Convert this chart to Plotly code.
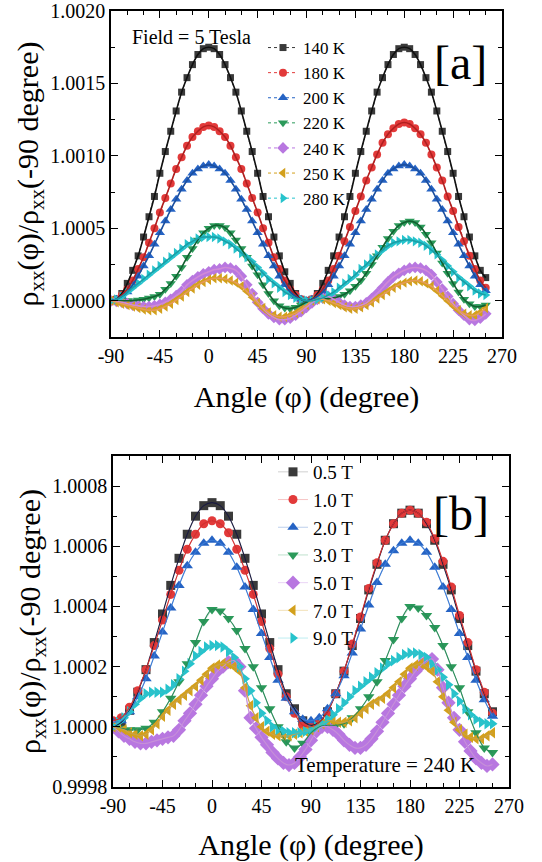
import plotly.graph_objects as go

# ---------------- data (deviation in units of 1e-4 from 1.0000) ----------------
angles_a = list(range(-90, 260, 5))
labels_a = ["140 K", "180 K", "200 K", "220 K", "240 K", "250 K", "280 K"]

t140 = [0.0, 0.1, 0.5, 1.2, 2.1, 3.1, 4.4, 5.8, 7.2, 8.8,
        10.3, 11.7, 13.1, 14.4, 15.4, 16.3, 17.0, 17.4, 17.5, 17.4,
        17.0, 16.3, 15.4, 14.4, 13.1, 11.7, 10.3, 8.8, 7.2, 5.8,
        4.4, 3.1, 2.0, 1.2, 0.5, 0.1, 0.0, 0.1, 0.5, 1.2,
        2.1, 3.1, 4.4, 5.8, 7.2, 8.8, 10.3, 11.7, 13.1, 14.4,
        15.4, 16.3, 17.0, 17.4, 17.5, 17.4, 17.0, 16.3, 15.4, 14.4,
        13.1, 11.7, 10.3, 8.8, 7.2, 5.8, 4.4, 3.1, 2.1, 1.6]
t180 = [0.0, 0.1, 0.4, 0.8, 1.4, 2.2, 3.0, 4.0, 5.0, 6.1,
        7.1, 8.1, 9.1, 9.9, 10.7, 11.3, 11.7, 12.0, 12.1, 12.0,
        11.7, 11.3, 10.7, 9.9, 9.1, 8.1, 7.1, 6.1, 5.0, 4.0,
        3.0, 2.2, 1.4, 0.8, 0.4, 0.1, 0.0, 0.1, 0.4, 0.8,
        1.4, 2.2, 3.1, 4.1, 5.1, 6.2, 7.2, 8.3, 9.2, 10.1,
        10.9, 11.5, 11.9, 12.2, 12.3, 12.2, 11.9, 11.5, 10.9, 10.1,
        9.2, 8.3, 7.2, 6.2, 5.1, 4.1, 3.1, 2.2, 1.4, 0.9]
t200 = [0.0, 0.1, 0.3, 0.6, 1.1, 1.7, 2.4, 3.1, 3.9, 4.7,
        5.5, 6.3, 7.0, 7.7, 8.3, 8.8, 9.1, 9.3, 9.4, 9.3,
        9.1, 8.8, 8.3, 7.7, 7.0, 6.3, 5.5, 4.7, 3.9, 3.1,
        2.4, 1.7, 1.1, 0.6, 0.3, 0.1, 0.0, 0.1, 0.3, 0.6,
        1.1, 1.7, 2.4, 3.1, 3.9, 4.7, 5.5, 6.3, 7.0, 7.7,
        8.3, 8.8, 9.1, 9.3, 9.4, 9.3, 9.1, 8.8, 8.3, 7.7,
        7.0, 6.3, 5.5, 4.7, 3.9, 3.1, 2.4, 1.7, 1.1, 0.7]
t220 = [0.0, 0.0, 0.0, 0.0, 0.0, 0.05, 0.1, 0.2, 0.3, 0.45,
        0.8, 1.2, 1.7, 2.3, 3.0, 3.6, 4.2, 4.7, 5.0, 5.2,
        5.2, 5.05, 4.7, 4.2, 3.6, 3.0, 2.4, 1.8, 1.1, 0.5,
        0.0, -0.35, -0.5, -0.55, -0.45, -0.3, -0.1, 0.0, 0.1, 0.1,
        0.15, 0.2, 0.3, 0.45, 0.7, 1.0, 1.4, 1.9, 2.5, 3.1,
        3.7, 4.3, 4.8, 5.2, 5.4, 5.5, 5.4, 5.1, 4.6, 4.0,
        3.3, 2.6, 1.9, 1.2, 0.6, 0.1, -0.2, -0.4, -0.4, -0.3]
t240 = [0.0, -0.05, -0.1, -0.2, -0.3, -0.35, -0.4, -0.4, -0.35, -0.25,
        -0.1, 0.1, 0.35, 0.65, 1.1, 1.4, 1.65, 1.85, 2.0, 2.15,
        2.2, 2.3, 2.25, 2.1, 1.7, 1.1, 0.5, -0.1, -0.55, -0.9,
        -1.15, -1.3, -1.3, -1.2, -1.0, -0.75, -0.45, -0.15, 0.1, 0.2,
        0.3, 0.1, -0.1, -0.3, -0.4, -0.4, -0.3, -0.15, 0.15, 0.5,
        0.9, 1.3, 1.65, 1.9, 2.1, 2.25, 2.3, 2.25, 2.1, 1.8,
        1.3, 0.8, 0.3, -0.2, -0.65, -1.0, -1.3, -1.35, -1.2, -0.9]
t250 = [0.0, -0.1, -0.2, -0.3, -0.4, -0.5, -0.6, -0.65, -0.65, -0.55,
        -0.4, -0.2, 0.05, 0.3, 0.6, 0.85, 1.1, 1.3, 1.45, 1.55,
        1.55, 1.5, 1.4, 1.25, 1.0, 0.65, 0.25, -0.15, -0.5, -0.8,
        -1.0, -1.1, -1.1, -1.0, -0.85, -0.6, -0.3, 0.0, 0.1, 0.1,
        0.0, -0.15, -0.3, -0.45, -0.55, -0.55, -0.45, -0.3, -0.1, 0.15,
        0.4, 0.65, 0.9, 1.1, 1.25, 1.35, 1.4, 1.35, 1.2, 1.0,
        0.7, 0.35, 0.0, -0.35, -0.65, -0.9, -1.0, -1.0, -0.8, -0.5]
t280 = [0.0, 0.1, 0.3, 0.6, 0.9, 1.2, 1.5, 1.8, 2.1, 2.4,
        2.7, 3.0, 3.3, 3.6, 3.9, 4.1, 4.3, 4.4, 4.4, 4.4,
        4.3, 4.1, 3.9, 3.6, 3.3, 3.0, 2.7, 2.3, 1.9, 1.5,
        1.2, 0.9, 0.6, 0.4, 0.2, 0.1, 0.0, 0.0, 0.1, 0.2,
        0.4, 0.6, 0.9, 1.2, 1.5, 1.8, 2.2, 2.5, 2.9, 3.2,
        3.5, 3.8, 4.0, 4.1, 4.2, 4.2, 4.1, 4.0, 3.8, 3.5,
        3.2, 2.8, 2.4, 2.0, 1.6, 1.3, 1.0, 0.7, 0.5, 0.4]

angles_b_coarse = [-90 + 7.5 * i for i in range(47)]
angles_b_fine = list(range(-90, 260, 5))
labels_b = ["0.5 T", "1.0 T", "2.0 T", "3.0 T", "5.0 T", "7.0 T", "9.0 T"]

b05 = [0.0, 0.15, 0.55, 1.15, 1.9, 2.8, 3.75, 4.7, 5.6, 6.4,
       7.0, 7.35, 7.45, 7.35, 7.0, 6.4, 5.6, 4.7, 3.75, 2.8,
       1.9, 1.1, 0.6, 0.2, 0.05, 0.15, 0.5, 1.1, 1.85, 2.7,
       3.6, 4.55, 5.4, 6.2, 6.75, 7.1, 7.2, 7.1, 6.75, 6.2,
       5.4, 4.55, 3.6, 2.7, 1.85, 1.1, 0.5]
b10 = [0.2, 0.3, 0.65, 1.2, 1.9, 2.7, 3.55, 4.4, 5.2, 5.9,
       6.4, 6.75, 6.85, 6.75, 6.45, 5.9, 5.2, 4.4, 3.5, 2.6,
       1.75, 1.0, 0.45, 0.05, 0.0, 0.15, 0.5, 1.1, 1.85, 2.75,
       3.65, 4.6, 5.45, 6.2, 6.75, 7.1, 7.2, 7.1, 6.8, 6.25,
       5.5, 4.65, 3.7, 2.8, 1.9, 1.15, 0.45]
b20 = [0.15, 0.2, 0.5, 1.0, 1.6, 2.35, 3.15, 3.95, 4.7, 5.35,
       5.8, 6.1, 6.2, 6.1, 5.8, 5.3, 4.65, 3.9, 3.1, 2.3,
       1.55, 0.95, 0.5, 0.25, 0.2, 0.3, 0.6, 1.1, 1.7, 2.45,
       3.25, 4.05, 4.8, 5.4, 5.85, 6.1, 6.2, 6.1, 5.8, 5.3,
       4.65, 3.9, 3.1, 2.3, 1.55, 0.9, 0.35]
b30 = [0.0, -0.05, -0.1, -0.1, -0.05, 0.15, 0.5, 0.95, 1.5, 2.1,
       2.8, 3.5, 3.9, 3.85, 3.6, 3.2, 2.6, 2.0, 1.3, 0.6,
       0.0, -0.5, -0.7, -0.55, -0.2, 0.0, 0.05, 0.05, 0.1, 0.3,
       0.6, 1.0, 1.5, 2.2, 2.9, 3.6, 4.0, 3.95, 3.7, 3.3,
       2.7, 2.0, 1.3, 0.5, -0.2, -0.7, -0.85]
b50 = [0.0, -0.15, -0.3, -0.4, -0.5, -0.55, -0.55, -0.5, -0.45, -0.4,
       -0.35, -0.3, -0.1, 0.2, 0.45, 0.75, 1.05, 1.35, 1.6, 1.85,
       2.0, 2.15, 2.2, 2.0, 1.2, 0.3, -0.05, -0.35, -0.6, -0.85,
       -1.05, -1.2, -1.27, -1.2, -1.0, -0.75, -0.45, -0.15, 0.0, 0.0,
       -0.1, -0.25, -0.45, -0.6, -0.7, -0.7, -0.6, -0.4, -0.15, 0.15,
       0.45, 0.75, 1.05, 1.35, 1.6, 1.85, 2.05, 2.2, 2.25, 1.9,
       1.3, 0.8, 0.3, -0.1, -0.5, -0.8, -1.05, -1.2, -1.3, -1.25]
b70 = [0.0, -0.05, -0.1, -0.2, -0.25, -0.3, -0.25, -0.1, 0.1, 0.35,
       0.55, 0.75, 0.9, 1.05, 1.2, 1.35, 1.55, 1.75, 1.95, 2.05,
       2.1, 2.1, 2.0, 1.85, 1.3, 0.7, 0.3, 0.0, -0.15, -0.25,
       -0.3, -0.3, -0.3, -0.25, -0.2, -0.15, -0.1, 0.0, 0.1, 0.2,
       0.2, 0.15, 0.15, 0.2, 0.3, 0.45, 0.6, 0.75, 0.85, 0.95,
       1.1, 1.3, 1.5, 1.75, 1.95, 2.05, 2.1, 2.0, 1.85, 1.5,
       1.0, 0.55, 0.15, -0.1, -0.25, -0.35, -0.4, -0.4, -0.3, -0.2]
b90 = [0.0, 0.15, 0.3, 0.5, 0.75, 0.95, 1.1, 1.15, 1.15, 1.15,
       1.25, 1.4, 1.6, 1.85, 2.1, 2.35, 2.5, 2.65, 2.7, 2.7,
       2.65, 2.5, 2.3, 2.0, 1.6, 1.2, 0.8, 0.45, 0.2, 0.0,
       -0.1, -0.15, -0.2, -0.2, -0.2, -0.15, -0.1, 0.0, 0.1, 0.25,
       0.4, 0.6, 0.8, 1.0, 1.2, 1.35, 1.5, 1.65, 1.8, 1.95,
       2.1, 2.2, 2.3, 2.4, 2.45, 2.45, 2.4, 2.3, 2.1, 1.9,
       1.65, 1.4, 1.1, 0.85, 0.6, 0.4, 0.25, 0.15, 0.1, 0.1]

x_ticks = [-90, -45, 0, 45, 90, 135, 180, 225, 270]
x_ticktext = ["-90", "-45", "0", "45", "90", "135", "180", "225", "270"]
ya_ticks = [1.0000, 1.0005, 1.0010, 1.0015, 1.0020]
yb_ticks = [0.9998, 1.0000, 1.0002, 1.0004, 1.0006, 1.0008]

# ---------------- styling ----------------
W, H = 542, 862
FONT = "Liberation Serif, Times New Roman, serif"
symbols = ["square", "circle", "triangle-up", "triangle-down", "diamond", "triangle-left", "triangle-right"]
colors = ["#3a3a3a", "#e23a3a", "#2563c4", "#2b9a5a", "#b877e0", "#d3a01c", "#26c3cc"]
fit_a = ["#111111", "#b02020", "#1c4f9e", "#126030", "#d089d8", "#e59a5a", "#1a9ea6"]
fit_b = ["#1a1a40", "#d03030", "#3b7bd5", "#2a8a5a", "#c690d8", "#c9a24a", "#35c0c8"]
pale = ["rgba(120,120,120,0.35)", "rgba(226,58,58,0.3)", "rgba(37,99,196,0.3)", "rgba(43,154,90,0.3)",
        "rgba(184,119,224,0.3)", "rgba(211,160,28,0.3)", "rgba(38,195,204,0.3)"]
msize_a = [7, 8, 9, 9, 9, 9, 9]
msize_b = [9, 9, 10, 10, 11, 10, 10]


def dev(vals):
    return [1 + v * 1e-4 for v in vals]


fig = go.Figure()

series_a = [t140, t180, t200, t220, t240, t250, t280]
for i, vals in enumerate(series_a):
    fig.add_trace(go.Scatter(
        x=angles_a, y=dev(vals), mode="lines+markers", name=labels_a[i],
        marker=dict(symbol=symbols[i], size=msize_a[i], color=colors[i]),
        line=dict(color=colors[i], width=1, dash="dot"),
        xaxis="x", yaxis="y", legend="legend"))
for i, vals in enumerate(series_a):
    fig.add_trace(go.Scatter(
        x=angles_a, y=dev(vals), mode="lines", showlegend=False, hoverinfo="skip",
        line=dict(color=fit_a[i], width=1.6, shape="spline", smoothing=1.0),
        xaxis="x", yaxis="y"))

series_b = [b05, b10, b20, b30, b50, b70, b90]
xs_b = [angles_b_coarse, angles_b_coarse, angles_b_coarse, angles_b_coarse,
        angles_b_fine, angles_b_fine, angles_b_fine]
for i, vals in enumerate(series_b):
    fig.add_trace(go.Scatter(
        x=xs_b[i], y=dev(vals), mode="lines+markers", name=labels_b[i],
        marker=dict(symbol=symbols[i], size=msize_b[i], color=colors[i]),
        line=dict(color=pale[i], width=1),
        xaxis="x2", yaxis="y2", legend="legend2"))
for i, vals in enumerate(series_b):
    fig.add_trace(go.Scatter(
        x=xs_b[i], y=dev(vals), mode="lines", showlegend=False, hoverinfo="skip",
        line=dict(color=fit_b[i], width=1.1, shape="spline", smoothing=1.0),
        xaxis="x2", yaxis="y2"))


def px_x(p):
    return p / W


def px_y(p):
    return 1 - p / H


axis_common = dict(
    showline=True, linecolor="black", linewidth=1.5, mirror="allticks",
    ticks="inside", ticklen=7, tickwidth=1.3, tickcolor="black",
    showgrid=False, zeroline=False, automargin=False,
    tickfont=dict(family=FONT, size=20, color="black"),
)
NB = "\u00a0"
ytitle_a = NB * 3 + "ρ<sub>xx</sub>(φ)/ρ<sub>xx</sub>(-90 degree)"
ytitle_b = NB * 2 + "ρ<sub>xx</sub>(φ)/ρ<sub>xx</sub>(-90 degree)"
xtitle = "Angle (φ) (degree)"

fig.update_layout(
    width=W, height=H, margin=dict(l=0, r=0, t=0, b=0),
    paper_bgcolor="white", plot_bgcolor="white",
    font=dict(family=FONT, color="black"),
    xaxis=dict(domain=[px_x(111), px_x(502)], range=[-90, 270], tickvals=x_ticks, ticktext=x_ticktext,
               minor=dict(ticks="inside", dtick=15, tick0=-90, ticklen=4, tickcolor="black"),
               title=dict(text=xtitle, font=dict(family=FONT, size=30, color="black"), standoff=20),
               anchor="y", **axis_common),
    yaxis=dict(domain=[px_y(337), px_y(11)], range=[0.99975, 1.0020], tickvals=ya_ticks,
               tickformat=".4f",
               minor=dict(ticks="inside", dtick=0.00025, tick0=1.0, ticklen=4, tickcolor="black"),
               title=dict(text=ytitle_a, font=dict(family=FONT, size=30, color="black"), standoff=3),
               anchor="x", **axis_common),
    xaxis2=dict(domain=[px_x(113), px_x(509)], range=[-90, 270], tickvals=x_ticks, ticktext=x_ticktext,
                minor=dict(ticks="inside", dtick=15, tick0=-90, ticklen=4, tickcolor="black"),
                title=dict(text=xtitle, font=dict(family=FONT, size=30, color="black"), standoff=20),
                anchor="y2", **axis_common),
    yaxis2=dict(domain=[px_y(787), px_y(456)], range=[0.9998, 1.0009], tickvals=yb_ticks,
                tickformat=".4f",
                minor=dict(ticks="inside", dtick=0.0001, tick0=1.0, ticklen=4, tickcolor="black"),
                title=dict(text=ytitle_b, font=dict(family=FONT, size=30, color="black"), standoff=3),
                anchor="x2", **axis_common),
    legend=dict(x=px_x(263), y=px_y(30), xanchor="left", yanchor="top",
                bgcolor="rgba(0,0,0,0)", borderwidth=0, tracegroupgap=0,
                font=dict(family=FONT, size=17, color="black")),
    legend2=dict(x=px_x(273), y=px_y(453), xanchor="left", yanchor="top",
                 bgcolor="rgba(0,0,0,0)", borderwidth=0, tracegroupgap=0,
                 font=dict(family=FONT, size=19, color="black")),
    annotations=[
        dict(text="Field = 5 Tesla", x=px_x(191), y=px_y(37), xref="paper", yref="paper",
             xanchor="center", yanchor="middle",
             showarrow=False, font=dict(family=FONT, size=20, color="black")),
        dict(text="[a]", x=px_x(460), y=px_y(62), xref="paper", yref="paper",
             xanchor="center", yanchor="middle",
             showarrow=False, font=dict(family=FONT, size=48, color="black")),
        dict(text="[b]", x=px_x(461), y=px_y(513), xref="paper", yref="paper",
             xanchor="center", yanchor="middle",
             showarrow=False, font=dict(family=FONT, size=48, color="black")),
        dict(text="Temperature = 240 K", x=px_x(385), y=px_y(765), xref="paper", yref="paper",
             xanchor="center", yanchor="middle",
             showarrow=False, font=dict(family=FONT, size=21, color="black")),
    ],
)

fig.write_html("out.html")
